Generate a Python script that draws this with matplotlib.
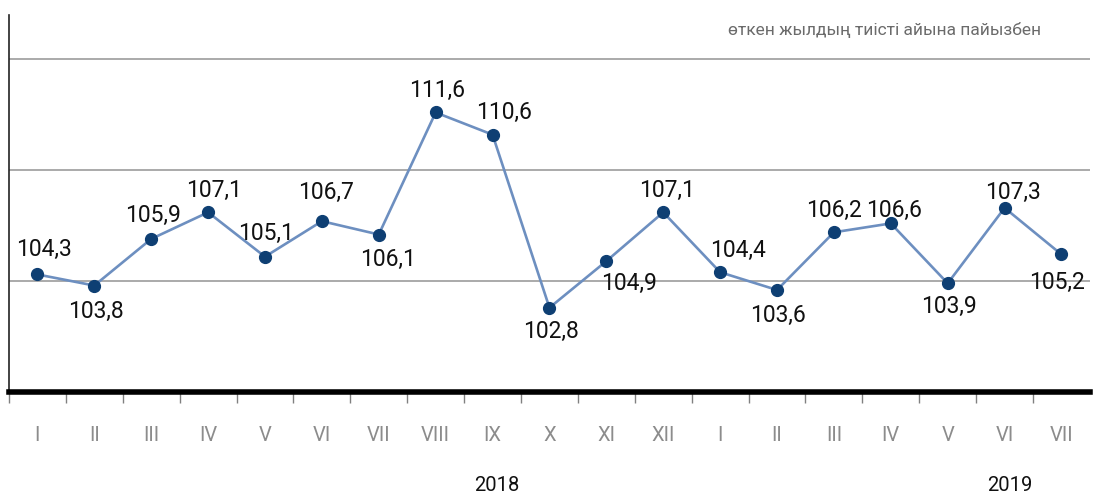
import matplotlib
matplotlib.use("Agg")
import matplotlib.pyplot as plt

plt.rcParams["font.family"] = ["Roboto", "DejaVu Sans"]

# --- data ---
months = ["I", "II", "III", "IV", "V", "VI", "VII", "VIII", "IX", "X", "XI", "XII",
          "I", "II", "III", "IV", "V", "VI", "VII"]
values = [104.3, 103.8, 105.9, 107.1, 105.1, 106.7, 106.1, 111.6, 110.6, 102.8, 104.9, 107.1,
          104.4, 103.6, 106.2, 106.6, 103.9, 107.3, 105.2]
years = ["2018", "2019"]
year_pos = [8.07, 17.1]
unit_note = "өткен жылдың тиісті айына пайызбен"

# label offsets in points (dx, dy)
offsets = [(5, 18), (1, -19), (1, 17), (4, 16), (1, 17), (3, 21), (7, -18), (1, 16),
           (8, 16), (1, -17), (16, -16), (3, 16), (13, 16), (1, -18), (0, 16), (2, 9),
           (1, -17), (6, 11), (-3, -20)]

x = list(range(len(values)))

fig = plt.figure(figsize=(10.93, 4.95), dpi=100)
ax = fig.add_axes([0.0082, 0.208, 0.989, 0.762])

ax.set_xlim(-0.5, len(values) - 0.5)
ax.set_ylim(99, 116)

for g in [104, 109, 114]:
    ax.axhline(g, color="#9c9c9c", lw=1.2, zorder=1)

ax.plot(x, values, color="#6d8fc0", lw=1.9, zorder=2)
ax.plot(x, values, "o", color="#0e3f73", ms=8.5, zorder=3)

for xi, v, (dx, dy) in zip(x, values, offsets):
    ax.annotate(f"{v:.1f}".replace(".", ","), (xi, v), xytext=(dx, dy),
                textcoords="offset points", ha="center", va="center",
                fontsize=16.5, color="#111111")

for s in ["top", "right"]:
    ax.spines[s].set_visible(False)
ax.spines["left"].set_color("#222222")
ax.spines["left"].set_linewidth(1.2)
ax.spines["bottom"].set_color("black")
ax.spines["bottom"].set_linewidth(4)

# separators between months (none at the right end)
ax.set_yticks([])
ax.set_xticks([i + 0.5 for i in range(-1, len(values) - 1)])
ax.set_xticklabels([])
ax.tick_params(axis="x", length=8, width=1, color="#808080", direction="out")

for xi, m in zip(x, months):
    ax.text(xi, -0.114, m, transform=ax.get_xaxis_transform(), ha="center", va="center",
            fontsize=14.5, color="#8c8c8c")

for yp, yr in zip(year_pos, years):
    ax.text(yp, -0.247, yr, transform=ax.get_xaxis_transform(), ha="center", va="center",
            fontsize=14.5, color="#111111")

ax.text(0.81, 0.96, unit_note, transform=ax.transAxes, ha="center", va="center",
        fontsize=12.5, color="#6b6b6b")

fig.savefig("out.png", dpi=100)
